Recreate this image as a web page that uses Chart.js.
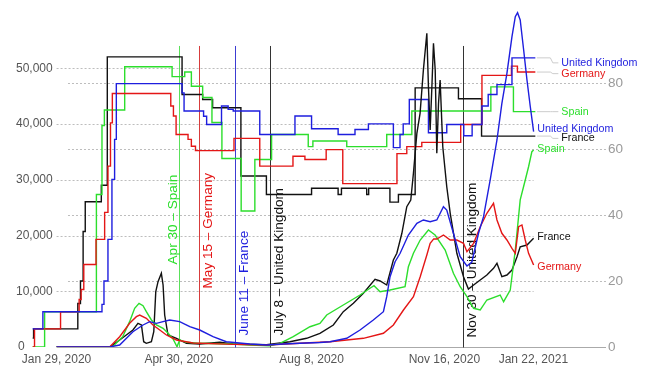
<!DOCTYPE html>
<html>
<head>
<meta charset="utf-8">
<script src="https://cdn.jsdelivr.net/npm/chart.js@4"></script>
<style>
  html, body { margin: 0; padding: 0; background: #fff; }
</style>
</head>
<body>
<canvas id="chart" width="649" height="367"></canvas>
<script>
// days are counted from Jan 29, 2020
const xTickDays = [0, 92, 192, 292, 359];
const xTickLabels = ["Jan 29, 2020", "Apr 30, 2020", "Aug 8, 2020", "Nov 16, 2020", "Jan 22, 2021"];
const casesTicks = [0, 10000, 20000, 30000, 40000, 50000];
const stringencyTicks = [0, 20, 40, 60, 80];

const countries = ["United Kingdom", "Germany", "Spain", "France"];

// daily new cases (7 day average), [day, cases]
const ukCases = [[0,0],[40,0],[47.5,360],[57.5,2750],[65.1,3950],[70.1,4550],[75.2,4250],[80.2,4550],[85.2,4850],[92.7,4550],[100.3,3640],[107.8,3050],[117.8,1850],[127.8,950],[145.5,540],[158.1,360],[170.6,540],[183.2,660],[198.3,800],[205.9,950],[218.5,1560],[228.5,3050],[238.5,4850],[246.1,6340],[248.6,9030],[251.1,12620],[254.9,15310],[258.7,16820],[264.9,20100],[271.3,22200],[276.2,22800],[281.3,22490],[286.3,22800],[291.3,25180],[293.8,24590],[298.8,20410],[303.9,16210],[309,14540],[312.7,15260],[317.7,20410],[321.5,23390],[326.5,30000],[331.6,37160],[335.3,43740],[339.1,49130],[342.9,55700],[345.4,59290],[347.1,60000],[349.1,58700],[351.7,53310],[354.2,47930],[356.7,43130],[359.2,38650]];
const germanyCases = [[0,0],[40,0],[47.5,1850],[55,4250],[60.1,5440],[62.6,5740],[67.6,5140],[72.6,3950],[77.7,3050],[82.7,2150],[90.3,1260],[102.8,720],[132.9,480],[158.1,360],[183.2,660],[205.9,950],[231,1560],[246.1,2460],[253.6,3950],[261.2,6640],[268.7,9030],[273.8,12620],[278.8,16510],[281.3,18610],[284,19400],[286.3,19390],[291.3,20100],[296.4,19200],[301.4,19200],[306.4,18610],[309,17100],[314,18610],[319,21590],[324,24000],[329,25790],[331.6,22800],[335.3,20410],[339.1,19210],[342.9,17720],[345.4,16820],[347.9,21590],[350.4,21900],[352.9,19210],[355.4,16820],[359.2,14720]];
const spainCases = [[0,0],[38,0],[42.2,50],[49.8,1850],[55,4550],[58.8,6940],[62.1,7840],[65.1,7420],[67.6,6340],[71.4,4850],[75.2,3950],[80.2,3350],[84,2450],[87.7,1440],[90.7,50],[92.7,1260],[97.8,840],[107.8,660],[132.7,540],[145.5,360],[160.6,230],[168.2,660],[178.2,1850],[190.8,3640],[198.3,4250],[203.4,5740],[215.9,7540],[228.5,9330],[236,10540],[239,11000],[243.6,9930],[251.1,10230],[262.4,10820],[264.9,14410],[268.7,16820],[273.8,19200],[280,21000],[285,20100],[292.6,17400],[298.8,13230],[303.9,10820],[309,9030],[314,6950],[319,6640],[324,8440],[334,9330],[336.6,8130],[341.6,10230],[345.4,17400],[349.1,26400],[352.9,29980],[355.4,32360],[357.9,35060],[359.2,35360]];
const franceCases = [[0,0],[40,0],[47.5,1260],[57.5,3050],[61.3,4250],[63.9,3950],[65.6,950],[67.6,660],[71.4,950],[73.2,2750],[74.7,9930],[76.4,11730],[78.9,13230],[80.2,11130],[81.4,5740],[83.9,2150],[90.3,1560],[97.8,660],[107.8,540],[122.9,840],[132.9,540],[158.1,410],[175.7,950],[188.3,1560],[198.3,2460],[208.4,3950],[215.9,6340],[223.5,7840],[231,9640],[239.8,12150],[243.6,11850],[248.6,11130],[253.6,15620],[256.2,16820],[260,20410],[263.7,25180],[266.7,26390],[268.7,31180],[271.3,38360],[273.7,41950],[276.2,49720],[278.8,56310],[280,46720],[281.3,38950],[282.6,46720],[283.8,54510],[285.1,49720],[286.3,34770],[287.6,43740],[288.8,47930],[290.8,35950],[293.8,28770],[296.4,24000],[301.4,16820],[306.4,12620],[310.1,10400],[314,11130],[319,12030],[324,12920],[329,14130],[331.6,15020],[335.3,12620],[339.1,12920],[342.9,13820],[346.7,16210],[349.1,18000],[354.2,18310],[359.2,19510]];

// stringency index, [day it changed, new value]
const ukStringency = [[-18,5.5],[-10.3,10.7],[34.2,12.9],[35.7,20],[38.7,32.6],[41.7,50.8],[43.7,62.9],[45,79.8],[94.5,77],[96,71.5],[110.7,69.9],[113,67.4],[124.2,73],[129.2,72],[133,71.5],[153,64.4],[179.5,70],[192,66.1],[212,64.4],[224.7,65.9],[234.8,67.6],[253.6,60.4],[258.6,64.4],[261,67.6],[265.6,75],[280,64.9],[293.8,67.4],[306.6,64],[312.9,67.4],[320.3,73],[325,76.5],[331.6,79.5],[342.9,87.6],[360.5,87.6]];
const germanyStringency = [[-18,0],[-16.6,5.5],[3,10.7],[17,14.4],[18.5,17.4],[20.5,25],[29.7,32.6],[36.2,40.8],[38.7,54.8],[40.6,67.9],[42,76.8],[86,73],[88,70],[90,64.4],[99,62.9],[101.5,60.8],[104.6,59.5],[133.6,63.2],[153,54.8],[178,57.8],[187,56.8],[203,59.8],[215.5,49.5],[256.3,58.6],[263.7,60.7],[275,62],[304.3,67.4],[320.3,82.3],[342.5,85.1],[347,83.3],[360.5,83.3]];
const spainStringency = [[-18,0],[-9,10.7],[30,46.2],[34.2,67.1],[36,71.8],[51.3,84.9],[87,81.9],[96.5,83.3],[101.5,79],[110,75.6],[117,68],[124.5,57.1],[139,41.2],[149.3,56.8],[161.9,64.4],[189.5,60.7],[193,62.4],[218.5,60.7],[248.6,64.4],[267.5,71.5],[327,78.8],[344,71.3],[360.5,71.3]];
const franceStringency = [[-18,2.7],[-17.3,5.5],[16,13.2],[18,20],[20,35],[21.6,44],[33.7,49],[38.2,87.9],[94.5,76.5],[110,75],[117.5,72.5],[138.8,51.8],[158,46.2],[192,48.1],[212,46.2],[214.5,48.1],[233.5,46.2],[235,48.1],[251,43.9],[257.4,46.2],[270,78.5],[302.6,75.2],[320,63.9],[360.5,63.9]];

// easing dates
const eventDays = [92, 107, 134, 161, 306];
const eventLabels = ["Apr 30 \u2013 Spain", "May 15 \u2013 Germany", "June 11 \u2013 France", "July 8 \u2013 United Kingdom", "Nov 30 \u2013 United Kingdom"];

// ---- styling ----
const FONT = '"Liberation Sans", Arial, Helvetica, sans-serif';
const colors = ["rgb(30,30,222)", "rgb(228,22,22)", "rgb(44,222,44)", "#111"];
const eventColors = ["rgb(44,222,44)", "rgb(228,22,22)", "rgb(30,30,222)", "#111", "#111"];
const eventLineColors = ["rgb(90,225,90)", "rgb(215,60,60)", "rgb(60,60,210)", "#333", "#333"];
const eventSide = ["left", "right", "right", "right", "right"];
const eventLabelLift = [83, 59, 12, 12, 10];     // px above the x axis
const casesLabelShift = [-2.4, 2.3, -0.7, -1.6];   // px
const stringencyLabelShift = [5, 1.6, 0, 2.3];    // px

const casesSeries = [ukCases, germanyCases, spainCases, franceCases];
const stringencySeries = [ukStringency, germanyStringency, spainStringency, franceStringency];

const datasets = [];
casesSeries.forEach((d, i) => datasets.push({
  label: countries[i] + " cases", data: d, yAxisID: "y",
  borderColor: colors[i], borderWidth: 1.4, pointRadius: 0, tension: 0
}));
stringencySeries.forEach((d, i) => datasets.push({
  label: countries[i] + " stringency", data: d, yAxisID: "y2", stepped: true,
  borderColor: colors[i], borderWidth: 1.4, pointRadius: 0
}));

function seg(ctx, x1, y1, x2, y2) {
  ctx.beginPath(); ctx.moveTo(x1, y1); ctx.lineTo(x2, y2); ctx.stroke();
}

const overlay = {
  id: "overlay",
  beforeDatasetsDraw(chart) {
    const { ctx, chartArea, scales: { x, y, y2 } } = chart;
    const lastDay = ukCases[ukCases.length - 1][0];
    ctx.save();
    ctx.lineWidth = 1;
    ctx.strokeStyle = "#bdbdbd";
    ctx.setLineDash([2, 2]);
    casesTicks.slice(1).forEach(v => {
      const py = Math.round(y.getPixelForValue(v)) + 0.5;
      seg(ctx, x.getPixelForValue(0), py, x.getPixelForValue(lastDay), py);
    });
    stringencyTicks.slice(1).forEach(v => {
      const py = Math.round(y2.getPixelForValue(v)) + 0.5;
      seg(ctx, x.getPixelForValue(8.6), py, chartArea.right, py);
    });
    ctx.setLineDash([]);
    ctx.strokeStyle = "#aaa";
    const base = Math.round(y.getPixelForValue(0)) + 0.5;
    seg(ctx, x.getPixelForValue(0), base, chartArea.right, base);

    // easing lines and their labels
    ctx.font = "13.6px " + FONT;
    ctx.textAlign = "left";
    ctx.textBaseline = "alphabetic";
    eventDays.forEach((d, i) => {
      const px = Math.round(x.getPixelForValue(d)) + 0.5;
      ctx.strokeStyle = eventLineColors[i];
      seg(ctx, px, y2.getPixelForValue(91.2), px, base);
      ctx.save();
      ctx.translate(eventSide[i] === "left" ? px - 2.7 : px + 12.3, base - eventLabelLift[i]);
      ctx.rotate(-Math.PI / 2);
      ctx.fillStyle = eventColors[i];
      ctx.fillText(eventLabels[i], 0, 0);
      ctx.restore();
    });
    ctx.restore();
  },
  afterDraw(chart) {
    const { ctx, chartArea, scales: { x, y, y2 } } = chart;
    ctx.save();
    ctx.textBaseline = "middle";

    ctx.font = "12px " + FONT;
    ctx.fillStyle = "#555";
    ctx.textAlign = "left";
    casesTicks.forEach(v => ctx.fillText(v.toLocaleString("en-US"), v ? 16 : 18, y.getPixelForValue(v)));
    ctx.textAlign = "center";
    xTickDays.forEach((d, i) => ctx.fillText(xTickLabels[i], x.getPixelForValue(d), 360));

    ctx.font = "13.5px " + FONT;
    ctx.fillStyle = "#9a9a9a";
    ctx.textAlign = "left";
    stringencyTicks.forEach(v => ctx.fillText(String(v), chartArea.right + 2, y2.getPixelForValue(v)));

    // end labels
    ctx.font = "10.7px " + FONT;
    casesSeries.forEach((d, i) => {
      const p = d[d.length - 1];
      ctx.fillStyle = colors[i];
      ctx.fillText(countries[i], x.getPixelForValue(p[0]) + 3.7, y.getPixelForValue(p[1]) + casesLabelShift[i]);
    });
    ctx.lineWidth = 1;
    stringencySeries.forEach((d, i) => {
      const p = d[d.length - 1];
      const ex = x.getPixelForValue(p[0]), ey = y2.getPixelForValue(p[1]);
      const s = stringencyLabelShift[i];
      ctx.strokeStyle = "#ccc";
      ctx.beginPath();
      ctx.moveTo(ex + 1.5, ey);
      ctx.lineTo(ex + 15, ey);
      ctx.lineTo(ex + 17.5, ey + s);
      ctx.lineTo(ex + 23, ey + s);
      ctx.stroke();
      ctx.fillStyle = colors[i];
      ctx.fillText(countries[i], ex + 26, ey + s);
    });
    ctx.restore();
  }
};

new Chart(document.getElementById("chart"), {
  type: "line",
  data: { datasets },
  options: {
    responsive: false,
    devicePixelRatio: 1,
    animation: false,
    events: [],
    layout: { padding: { left: 30, right: 43, top: 10, bottom: 20 } },
    plugins: { legend: { display: false }, tooltip: { enabled: false } },
    scales: {
      x: { type: "linear", min: -20, max: 413.7, display: false },
      y: { type: "linear", min: 0, max: 60492, display: false },
      y2: { type: "linear", min: 0, max: 102.1, display: false }
    }
  },
  plugins: [overlay]
});
</script>
</body>
</html>
